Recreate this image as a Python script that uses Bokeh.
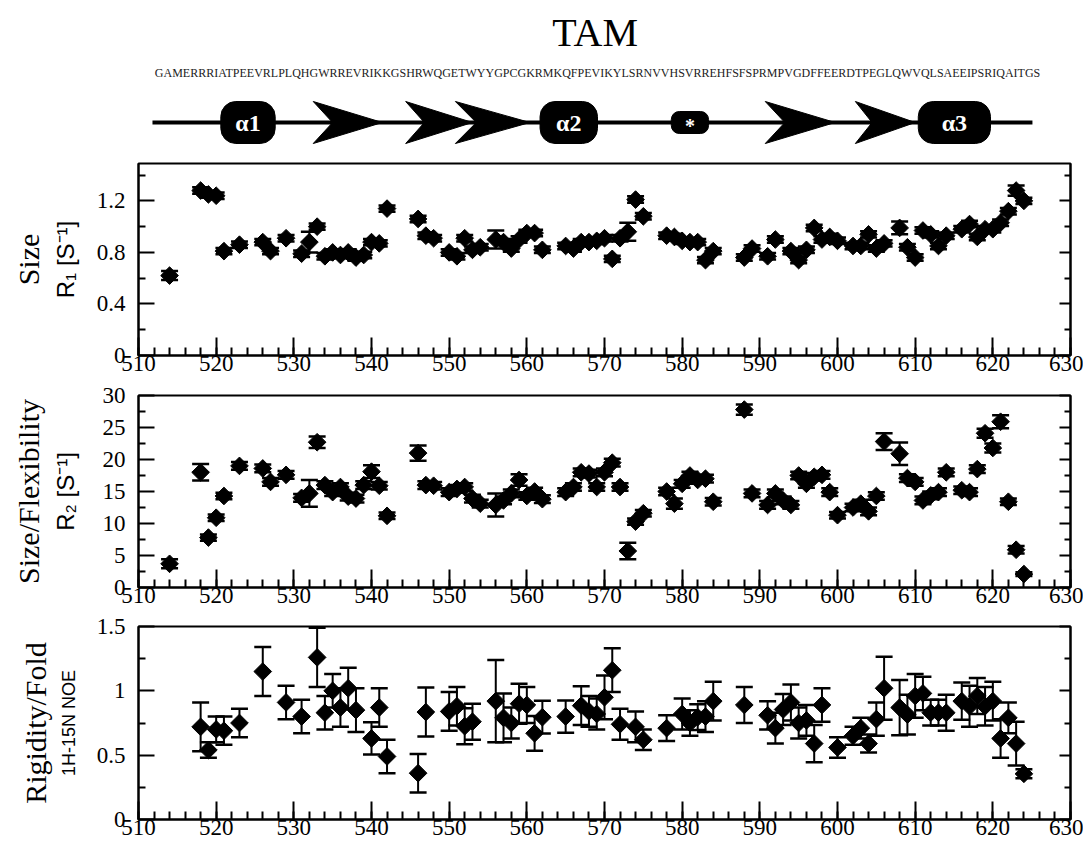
import numpy as np
from bokeh.plotting import figure
from bokeh.models import (ColumnDataSource, Whisker, TeeHead, LinearAxis,
                          FixedTicker, Range1d)
from bokeh.layouts import column
from bokeh.embed import file_html
from bokeh.resources import INLINE
from bokeh.core.properties import value

# ---------------- data ----------------
title_text = "TAM"
sequence = ("GAMERRRIATPEEVRLPLQHGWRREVRIKKGSHRWQGETWYYGPCGKRMKQFPEVIKYLS"
            "RNVVHSVRREHFSFSPRMPVGDFFEERDTPEGLQWVQLSAEEIPSRIQAITGS")

ss_line = [511.8, 625.1]
helix_start = [520.6, 561.7, 610.4]
helix_end = [527.6, 569.1, 619.7]
helix_names = ["α1", "α2", "α3"]
strand_start = [532.5, 544.4, 550.8, 590.7, 602.3]
strand_end = [541.4, 553.0, 560.4, 599.7, 610.0]
turn_start = [578.6]
turn_end = [583.4]
turn_names = ["*"]

x_ticks = list(range(510, 631, 10))
x_minor = list(range(510, 631, 2))

r1_res = [514, 518, 519, 520, 521, 523, 526, 527, 529, 531, 532, 533, 534, 535,
          536, 537, 538, 539, 540, 541, 542, 546, 547, 548, 550, 551, 552, 553,
          554, 556, 557, 558, 559, 560, 561, 562, 565, 566, 567, 568, 569, 570,
          571, 572, 573, 574, 575, 578, 579, 580, 581, 582, 583, 584, 588, 589,
          591, 592, 594, 595, 596, 597, 598, 599, 600, 602, 603, 604, 605, 606,
          608, 609, 610, 611, 612, 613, 614, 616, 617, 618, 619, 620, 621, 622,
          623, 624]
r1_val = [0.62, 1.28, 1.25, 1.24, 0.81, 0.86, 0.88, 0.81, 0.91, 0.79, 0.88, 1.00,
          0.77, 0.80, 0.78, 0.80, 0.76, 0.78, 0.88, 0.87, 1.14, 1.06, 0.93, 0.91,
          0.80, 0.77, 0.91, 0.82, 0.84, 0.90, 0.88, 0.83, 0.90, 0.95, 0.95, 0.82,
          0.85, 0.83, 0.88, 0.88, 0.89, 0.91, 0.75, 0.91, 0.96, 1.21, 1.08, 0.93,
          0.92, 0.89, 0.88, 0.88, 0.74, 0.81, 0.76, 0.83, 0.77, 0.90, 0.81, 0.74,
          0.82, 0.99, 0.90, 0.92, 0.89, 0.85, 0.85, 0.94, 0.83, 0.87, 0.99, 0.84,
          0.76, 0.97, 0.94, 0.85, 0.93, 0.98, 1.02, 0.92, 0.98, 0.98, 1.03, 1.12,
          1.28, 1.20]
r1_err = [0.035, 0.025, 0.025, 0.025, 0.025, 0.025, 0.025, 0.025, 0.025, 0.025,
          0.08, 0.025, 0.025, 0.025, 0.025, 0.025, 0.025, 0.025, 0.025, 0.025,
          0.025, 0.025, 0.025, 0.025, 0.025, 0.025, 0.025, 0.025, 0.025, 0.07,
          0.025, 0.025, 0.025, 0.025, 0.025, 0.025, 0.025, 0.025, 0.025, 0.025,
          0.025, 0.025, 0.025, 0.025, 0.07, 0.025, 0.025, 0.025, 0.025, 0.025,
          0.025, 0.025, 0.025, 0.025, 0.025, 0.025, 0.025, 0.025, 0.025, 0.025,
          0.025, 0.025, 0.025, 0.025, 0.025, 0.025, 0.025, 0.025, 0.025, 0.025,
          0.05, 0.025, 0.025, 0.025, 0.025, 0.025, 0.025, 0.025, 0.025, 0.025,
          0.025, 0.025, 0.025, 0.025, 0.04, 0.025]

r2_res = [514, 518, 519, 520, 521, 523, 526, 527, 529, 531, 532, 533, 534, 535,
          536, 537, 538, 539, 540, 541, 542, 546, 547, 548, 550, 551, 552, 553,
          554, 556, 557, 558, 559, 560, 561, 562, 565, 566, 567, 568, 569, 570,
          571, 572, 573, 574, 575, 578, 579, 580, 581, 582, 583, 584, 588, 589,
          591, 592, 593, 594, 595, 596, 597, 598, 599, 600, 602, 603, 604, 605,
          606, 608, 609, 610, 611, 612, 613, 614, 616, 617, 618, 619, 620, 621,
          622, 623, 624]
r2_val = [3.7, 18.0, 7.8, 10.9, 14.3, 19.0, 18.6, 16.5, 17.6, 14.0, 14.7, 22.7,
          16.0, 14.9, 15.7, 14.2, 13.9, 16.0, 18.1, 15.9, 11.2, 21.0, 16.0, 15.9,
          14.9, 15.4, 15.7, 13.9, 13.1, 12.9, 13.6, 14.7, 16.8, 14.3, 15.0, 13.8,
          14.9, 15.7, 18.0, 17.8, 15.7, 18.0, 19.5, 15.7, 5.7, 10.3, 11.6, 15.0,
          13.1, 16.2, 17.5, 16.8, 17.0, 13.4, 27.8, 14.7, 12.9, 14.7, 13.6, 12.9,
          17.5, 16.2, 17.3, 17.6, 14.9, 11.3, 12.5, 13.1, 11.9, 14.3, 22.8, 20.9,
          17.1, 16.5, 13.6, 14.4, 14.9, 18.0, 15.2, 14.9, 18.5, 24.1, 21.8, 25.9,
          13.4, 5.9, 2.1]
r2_err = [0.7, 1.3, 0.5, 0.5, 0.5, 0.6, 0.6, 0.6, 0.6, 0.6, 2.1, 0.9, 0.6, 0.6,
          0.6, 0.6, 0.6, 0.6, 1.0, 0.6, 0.5, 1.2, 0.6, 0.6, 0.6, 0.6, 0.6, 0.6,
          0.6, 1.8, 0.6, 0.6, 0.9, 0.6, 0.6, 0.6, 0.6, 0.6, 0.6, 0.6, 0.6, 0.6,
          0.6, 0.6, 1.3, 0.5, 0.5, 0.6, 0.8, 0.6, 0.6, 0.6, 0.6, 0.6, 0.8, 0.6,
          0.6, 0.6, 0.6, 0.6, 0.6, 0.6, 0.6, 0.6, 0.6, 0.5, 0.6, 0.6, 0.6, 0.6,
          1.3, 1.75, 0.6, 0.6, 0.6, 0.6, 0.6, 0.6, 0.6, 0.6, 0.6, 0.7, 0.7, 1.0,
          0.5, 0.6, 0.3]

noe_res = [518, 519, 520, 521, 523, 526, 529, 531, 533, 534, 535, 536, 537, 538,
           540, 541, 542, 546, 547, 550, 551, 552, 553, 556, 557, 558, 559, 560,
           561, 562, 565, 567, 568, 569, 570, 571, 572, 574, 575, 578, 580, 581,
           582, 583, 584, 588, 591, 592, 593, 594, 595, 596, 597, 598, 600, 602,
           603, 604, 605, 606, 608, 609, 610, 611, 612, 613, 614, 616, 617, 618,
           619, 620, 621, 622, 623, 624]
noe_val = [0.72, 0.54, 0.70, 0.69, 0.75, 1.15, 0.91, 0.80, 1.26, 0.83, 1.00, 0.87,
           1.02, 0.85, 0.63, 0.87, 0.49, 0.36, 0.835, 0.84, 0.88, 0.725, 0.76,
           0.92, 0.79, 0.75, 0.90, 0.89, 0.67, 0.795, 0.80, 0.885, 0.84, 0.82,
           0.95, 1.16, 0.74, 0.72, 0.62, 0.71, 0.82, 0.75, 0.795, 0.80, 0.92,
           0.89, 0.81, 0.71, 0.855, 0.91, 0.75, 0.77, 0.59, 0.89, 0.56, 0.65,
           0.71, 0.59, 0.78, 1.02, 0.87, 0.815, 0.96, 0.98, 0.83, 0.83, 0.83,
           0.92, 0.88, 0.96, 0.88, 0.92, 0.63, 0.79, 0.59, 0.355]
noe_err = [0.19, 0.06, 0.10, 0.11, 0.11, 0.19, 0.13, 0.13, 0.23, 0.13, 0.13, 0.15,
           0.16, 0.17, 0.125, 0.15, 0.13, 0.15, 0.19, 0.15, 0.15, 0.14, 0.14,
           0.32, 0.19, 0.12, 0.155, 0.14, 0.135, 0.127, 0.125, 0.15, 0.12, 0.12,
           0.17, 0.17, 0.12, 0.12, 0.08, 0.10, 0.12, 0.10, 0.10, 0.12, 0.15,
           0.14, 0.11, 0.12, 0.12, 0.14, 0.12, 0.12, 0.145, 0.13, 0.08, 0.07,
           0.08, 0.07, 0.13, 0.245, 0.215, 0.155, 0.17, 0.13, 0.10, 0.10, 0.14,
           0.145, 0.16, 0.14, 0.15, 0.15, 0.15, 0.12, 0.17, 0.035]

# ---------------- styling constants ----------------
LEFT = 138
RIGHT = 13
W = LEFT + 932 + RIGHT
SERIF = "Liberation Serif"
SANS = "Liberation Sans"
HDR_H = 150

# ---------------- header (title, sequence, secondary structure) ----------------
hdr = figure(width=W, height=HDR_H, x_range=Range1d(510, 630),
             y_range=Range1d(HDR_H, 0),
             min_border_left=LEFT, min_border_right=RIGHT, min_border_top=0,
             min_border_bottom=0, x_axis_type=None, y_axis_type=None,
             toolbar_location=None, output_backend="svg", title=None,
             outline_line_color=None)
hdr.grid.visible = False
hdr.text(x=[568.8], y=[32], text=[title_text], text_font=value(SERIF),
         text_font_size="40px", text_align="center", text_baseline="middle",
         text_color="black")
hdr.text(x=[569.1], y=[72], text=[sequence], text_font=value(SERIF),
         text_font_size="12px", text_align="center", text_baseline="middle",
         text_color="#222222")
hdr.line(x=ss_line, y=[122, 122], line_width=4, line_color="black")

# strands as notched arrow heads
xs, ys = [], []
for s, e in zip(strand_start, strand_end):
    notch = s + 0.28 * (e - s)
    xs.append([s, e, s, notch])
    ys.append([101, 122, 143, 122])
hdr.patches(xs=xs, ys=ys, fill_color="black", line_color="black")

hsrc = ColumnDataSource(dict(l=helix_start, r=helix_end,
                             c=[(a + b) / 2 for a, b in zip(helix_start, helix_end)],
                             n=helix_names))
hdr.quad(left="l", right="r", top=101, bottom=143, source=hsrc, fill_color="black",
         line_color="black", border_radius=15)
hdr.text(x="c", y=122, text="n", source=hsrc, text_color="white",
         text_font=value(SERIF), text_font_style="bold", text_font_size="24px",
         text_align="center", text_baseline="middle")

tsrc = ColumnDataSource(dict(l=turn_start, r=turn_end,
                             c=[(a + b) / 2 for a, b in zip(turn_start, turn_end)],
                             n=turn_names))
hdr.quad(left="l", right="r", top=111, bottom=133, source=tsrc, fill_color="black",
         line_color="black", border_radius=8)
hdr.text(x="c", y=125, text="n", source=tsrc, text_color="white",
         text_font=value(SERIF), text_font_style="bold", text_font_size="20px",
         text_align="center", text_baseline="middle")


# ---------------- data panels ----------------
def panel(res, val, err, ymax, majors, minors, overrides, inner_label, inner_font,
          inner_size, outer_label, height, top, bottom, inner_standoff):
    p = figure(width=W, height=height, x_range=Range1d(510, 630),
               y_range=Range1d(0, ymax), min_border_left=LEFT, min_border_right=RIGHT,
               min_border_top=top, min_border_bottom=bottom, toolbar_location=None,
               output_backend="svg", title=None)
    p.grid.visible = False
    p.outline_line_color = "black"
    p.outline_line_width = 2
    p.outline_line_alpha = 1

    # x axis (bottom)
    xa = p.xaxis[0]
    xa.ticker = FixedTicker(ticks=x_ticks, minor_ticks=x_minor)
    xa.major_tick_in = 18
    xa.major_tick_out = 0
    xa.minor_tick_in = 8
    xa.minor_tick_out = 0
    xa.axis_line_width = 2
    xa.major_tick_line_width = 2
    xa.minor_tick_line_width = 2
    xa.major_label_text_font = SERIF
    xa.major_label_text_font_size = "23px"
    xa.major_label_text_color = "black"
    xa.major_label_standoff = 0

    # y axis (left, inner)
    ya = p.yaxis[0]
    ya.ticker = FixedTicker(ticks=majors, minor_ticks=minors)
    ya.major_label_overrides = overrides
    ya.major_tick_in = 16
    ya.major_tick_out = 0
    ya.minor_tick_in = 7
    ya.minor_tick_out = 0
    ya.axis_line_width = 2
    ya.major_tick_line_width = 2
    ya.minor_tick_line_width = 2
    ya.major_label_text_font = SERIF
    ya.major_label_text_font_size = "23px"
    ya.major_label_text_color = "black"
    ya.major_label_standoff = 13
    ya.axis_label = inner_label
    ya.axis_label_text_font = inner_font
    ya.axis_label_text_font_size = inner_size
    ya.axis_label_text_font_style = "normal"
    ya.axis_label_text_color = "black"
    ya.axis_label_standoff = inner_standoff

    # outer y title
    oa = LinearAxis(ticker=FixedTicker(ticks=[]), axis_label=outer_label)
    oa.axis_line_color = None
    oa.major_tick_line_color = None
    oa.minor_tick_line_color = None
    oa.major_label_standoff = 0
    oa.axis_label_text_font = SERIF
    oa.axis_label_text_font_size = "30px"
    oa.axis_label_text_font_style = "normal"
    oa.axis_label_text_color = "black"
    oa.axis_label_standoff = 4
    p.add_layout(oa, "left")

    # right mirror ticks
    ra = LinearAxis(ticker=FixedTicker(ticks=majors, minor_ticks=minors))
    ra.major_label_overrides = {t: "" for t in majors}
    ra.major_label_standoff = 0
    ra.major_tick_in = 11
    ra.major_tick_out = 0
    ra.minor_tick_in = 6
    ra.minor_tick_out = 0
    ra.axis_line_width = 2
    ra.major_tick_line_width = 2
    ra.minor_tick_line_width = 2
    p.add_layout(ra, "right")

    v = np.array(val, dtype=float)
    e = np.array(err, dtype=float)
    src = ColumnDataSource(dict(x=res, y=v, up=v + e, lo=v - e))
    wh = Whisker(base="x", upper="up", lower="lo", source=src, line_width=2,
                 line_color="black",
                 upper_head=TeeHead(size=17, line_width=2.5, line_color="black"),
                 lower_head=TeeHead(size=17, line_width=2.5, line_color="black"))
    p.add_layout(wh)
    p.scatter(x="x", y="y", source=src, marker="square", angle=np.pi / 4, size=12.5,
              fill_color="black", line_color="black")
    return p


p1 = panel(r1_res, r1_val, r1_err, 1.49, [0, 0.4, 0.8, 1.2], [0.2, 0.6, 1.0, 1.4],
           {0: "0", 0.4: "0.4", 0.8: "0.8", 1.2: "1.2"}, "R₁ [S⁻¹]", SANS, "24px",
           "Size", 231, 13, 26, 15)
p2 = panel(r2_res, r2_val, r2_err, 30, [0, 5, 10, 15, 20, 25, 30],
           [2.5, 7.5, 12.5, 17.5, 22.5, 27.5], {}, "R₂ [S⁻¹]", SANS, "24px",
           "Size/Flexibility", 231, 14, 25, 21)
p3 = panel(noe_res, noe_val, noe_err, 1.5, [0, 0.5, 1, 1.5], [0.25, 0.75, 1.25],
           {0: "0", 0.5: "0.5", 1: "1", 1.5: "1.5"}, "1H-15N NOE", SANS, "18px",
           "Rigidity/Fold", 236, 14, 29, 15)

layout = column(hdr, p1, p2, p3)
open("out.html", "w").write(file_html(layout, INLINE))
